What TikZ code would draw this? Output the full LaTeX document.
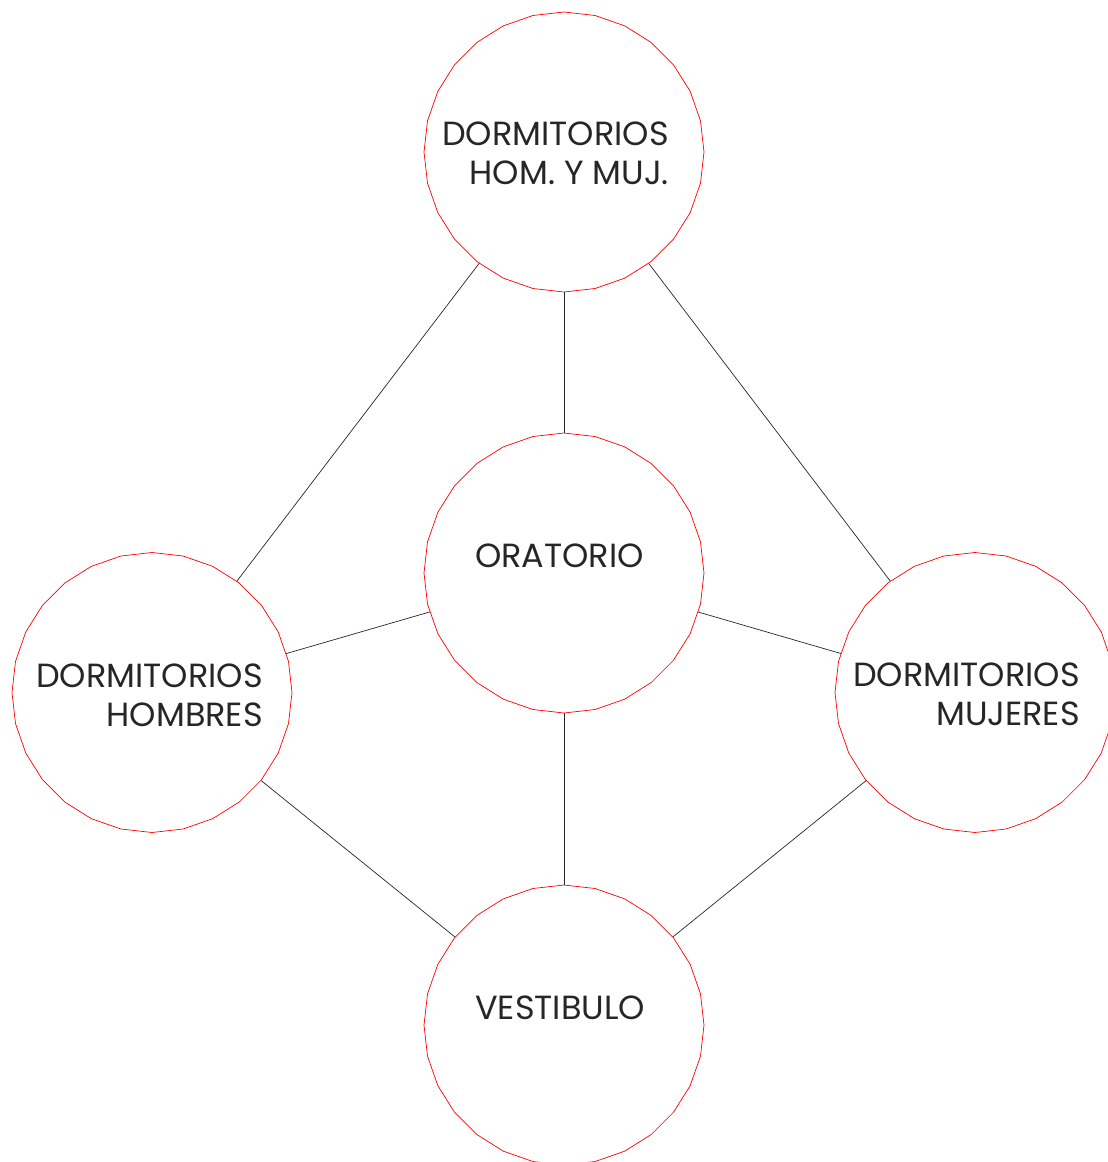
\documentclass[tikz,border=0pt]{standalone}
\usepackage{fontspec}
\setmainfont{Poppins}
\usetikzlibrary{shapes.geometric}
\begin{document}
\begin{tikzpicture}[x=1pt,y=-1pt,
  room/.style={regular polygon, regular polygon sides=28, shape border rotate=6.4286,
    minimum size=280pt, inner sep=0pt, draw=red, line width=0.7pt},
  link/.style={draw=black!85, line width=0.7pt},
  lbl/.style={font=\fontsize{33.5}{39}\selectfont, text=black!85, align=right, inner sep=0pt}]
\useasboundingbox (0,0) rectangle (1108,1162);
\node[room] (top) at (564,152) {};
\node[room] (mid) at (564,573) {};
\node[room] (lft) at (152,692.5) {};
\node[room] (rgt) at (975,692.5) {};
\node[room] (bot) at (564,1025) {};
\draw[link] (top) -- (lft);
\draw[link] (top) -- (mid);
\draw[link] (top) -- (rgt);
\draw[link] (mid) -- (lft);
\draw[link] (mid) -- (rgt);
\draw[link] (mid) -- (bot);
\draw[link] (lft) -- (bot);
\draw[link] (rgt) -- (bot);
\node[lbl, anchor=base east] (ttop) at (669,184) {DORMITORIOS\\HOM. Y MUJ.};
\node[lbl, anchor=base west] (tmid) at (475,567) {ORATORIO};
\node[lbl, anchor=base east] (tlft) at (263,726) {DORMITORIOS\\HOMBRES};
\node[lbl, anchor=base east] (trgt) at (1080,725) {DORMITORIOS\\MUJERES};
\node[lbl, anchor=base west] (tbot) at (475,1019) {VESTIBULO};
\end{tikzpicture}
\end{document}
